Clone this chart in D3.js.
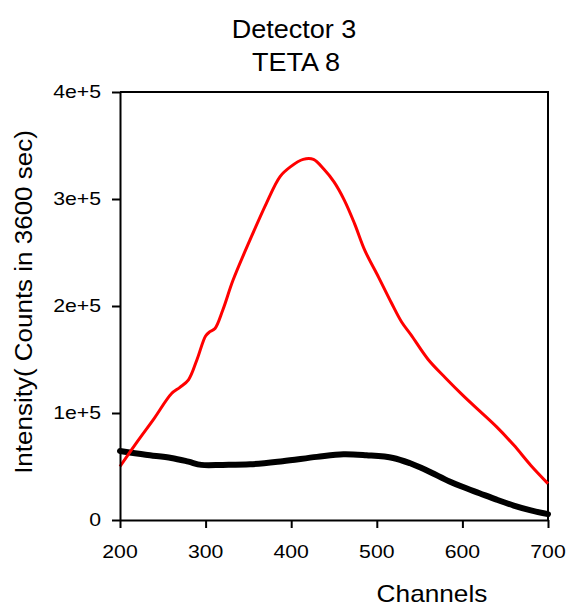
<!DOCTYPE html>
<html>
<head>
<meta charset="utf-8">
<script src="https://cdn.jsdelivr.net/npm/d3@7"></script>
<style>
	body { margin: 0; background: #fff; }
	text { font-family: "Liberation Sans", Arial, sans-serif; fill: #000; }
</style>
</head>
<body>
<div id="chart"></div>
<script>
// channel positions and intensities
var redChannels = [200, 220, 240, 260, 270, 280, 290, 300, 305, 311, 320, 332, 352, 371, 387, 399, 414, 426, 438, 450, 462, 474, 486, 502, 517, 529, 540, 560, 580, 600, 620, 640, 660, 680, 700];
var redCounts = [50000, 73000, 95000, 118000, 124000, 131000, 150000, 172000, 176000, 179000, 196000, 224000, 262000, 296000, 321000, 330000, 337000, 337000, 328000, 316000, 299000, 277000, 252000, 227000, 203000, 185000, 173000, 150000, 133000, 117000, 102000, 87000, 70000, 51000, 34000];

var blackChannels = [200, 230, 260, 280, 295, 320, 352, 390, 430, 461, 488, 519, 539, 558, 585, 600, 620, 640, 660, 680, 700];
var blackCounts = [64500, 61000, 58000, 54500, 51500, 51500, 52000, 55000, 59000, 61500, 60500, 58000, 53000, 46500, 36000, 31000, 25000, 19000, 13500, 9000, 5500];

var xTicks = [200, 300, 400, 500, 600, 700];
var xTickLabels = ["200", "300", "400", "500", "600", "700"];
var yTicks = [0, 100000, 200000, 300000, 400000];
var yTickLabels = ["0", "1e+5", "2e+5", "3e+5", "4e+5"];

var titleLines = ["Detector 3", "TETA 8"];
var xTitle = "Channels";
var yTitle = "Intensity( Counts in 3600 sec)";

var W = 569, H = 611;

var svg = d3.select("#chart").append("svg")
	.attr("width", W)
	.attr("height", H);

var x = d3.scaleLinear().domain([200, 700]).range([120, 548]);
var y = d3.scaleLinear().domain([0, 400000]).range([520, 92]);

//text in the picture is wider than Liberation Sans, so stretch it along its baseline
function label(px, py, rot, txt, size, stretch, anchor){
	return svg.append("text")
		.attr("transform", "translate(" + px + "," + py + ") rotate(" + rot + ") scale(" + stretch + ",1)")
		.attr("text-anchor", anchor)
		.style("font-size", size + "px")
		.text(txt);
}

//FRAME (top and right)
svg.append("path")
	.attr("d", "M" + x(200) + "," + y(400000) + "H" + x(700) + "V" + y(0))
	.attr("fill", "none")
	.attr("stroke", "#000")
	.attr("stroke-width", 2);

var line = d3.line()
	.x(function(d){ return x(d[0]); })
	.y(function(d){ return y(d[1]); })
	.curve(d3.curveCatmullRom.alpha(0.5));

svg.append("path")
	.datum(blackChannels.map(function(c, i){ return [c, blackCounts[i]]; }))
	.attr("d", line)
	.attr("fill", "none")
	.attr("stroke", "#000")
	.attr("stroke-width", 6)
	.attr("stroke-linecap", "round");

svg.append("path")
	.datum(redChannels.map(function(c, i){ return [c, redCounts[i]]; }))
	.attr("d", line)
	.attr("fill", "none")
	.attr("stroke", "#ff0000")
	.attr("stroke-width", 3);

//AXES (labels drawn separately below)
var xAxis = svg.append("g")
	.attr("transform", "translate(0," + y(0) + ")")
	.call(d3.axisBottom(x).tickValues(xTicks).tickSize(8).tickSizeOuter(0).tickFormat(""));

var yAxis = svg.append("g")
	.attr("transform", "translate(" + x(200) + ",0)")
	.call(d3.axisLeft(y).tickValues(yTicks).tickSize(8).tickSizeOuter(0).tickFormat(""));

[xAxis, yAxis].forEach(function(g){
	g.select(".domain").attr("stroke-width", 2);
	g.selectAll(".tick line").attr("stroke-width", 2);
});

xTicks.forEach(function(t, i){
	label(x(t), y(0) + 38, 0, xTickLabels[i], 18, 1.18, "middle");
});
yTicks.forEach(function(t, i){
	label(x(200) - 19, y(t) + 6, 0, yTickLabels[i], 18, 1.18, "end");
});

//TITLES
label(294, 38, 0, titleLines[0], 26, 1.04, "middle");
label(296, 71, 0, titleLines[1], 26, 1.04, "middle");
label(432, 602, 0, xTitle, 23, 1.14, "middle");
label(32, 302, -90, yTitle, 23, 1.13, "middle");
</script>
</body>
</html>
